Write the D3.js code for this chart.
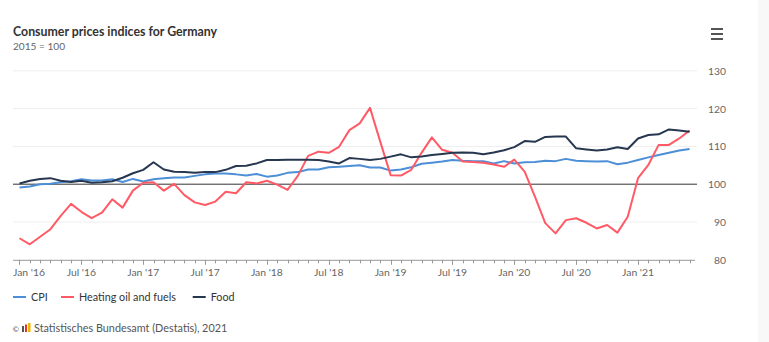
<!DOCTYPE html>
<html><head><meta charset="utf-8">
<script src="https://cdn.jsdelivr.net/npm/d3@7"></script>
<style>html,body{margin:0;padding:0;background:#fff;}svg{display:block;font-family:Lato,"Noto Sans",sans-serif;}</style>
</head><body><svg id="c" width="769" height="342"></svg>
<script>
const months = d3.range(66); // Jan 2016 .. Jun 2021
const cpi = [99.1,99.4,100.0,100.1,100.5,100.8,101.3,101.0,101.0,101.3,100.6,101.4,
100.7,101.3,101.6,101.8,101.8,102.2,102.6,102.8,102.8,102.6,102.3,102.7,
102.0,102.3,103.0,103.2,103.9,103.9,104.5,104.6,104.8,105.0,104.4,104.4,
103.6,103.9,104.5,105.4,105.7,106.0,106.4,106.2,106.1,106.1,105.5,106.1,
105.5,105.8,105.9,106.2,106.1,106.7,106.2,106.1,106.0,106.1,105.3,105.7,
106.4,107.1,107.7,108.3,108.9,109.3];
const heating = [85.7,84.1,86.1,88.1,91.6,94.8,92.7,91.0,92.5,96.0,93.8,98.3,
100.4,100.5,98.3,100.1,97.1,95.2,94.5,95.4,98.0,97.6,100.5,100.2,
100.9,99.9,98.5,102.2,107.5,108.6,108.3,109.9,114.3,116.1,120.2,111.2,
102.4,102.3,103.8,108.3,112.4,109.1,108.3,106.0,105.9,105.7,105.2,104.6,
106.5,103.3,96.7,89.7,87.0,90.5,91.0,89.8,88.3,89.2,87.2,91.4,
101.6,105.1,110.4,110.4,112.1,114.2];
const food = [100.2,100.9,101.4,101.6,100.9,100.6,100.9,100.4,100.5,100.8,101.7,102.9,
103.8,105.8,103.9,103.3,103.2,103.0,103.2,103.2,103.8,104.8,104.9,105.5,
106.4,106.4,106.5,106.5,106.5,106.4,106.0,105.5,106.9,106.7,106.4,106.7,
107.3,107.9,107.1,107.3,107.7,108.0,108.3,108.4,108.3,107.9,108.4,109.0,
109.8,111.4,111.2,112.5,112.6,112.6,109.5,109.2,108.9,109.2,109.8,109.3,
112.1,113.0,113.2,114.5,114.2,113.9];
const yTicks = [80,90,100,110,120,130];
const xTickIdx = [0,6,12,18,24,30,36,42,48,54,60];
const xTickLabels = ["Jan '16","Jul '16","Jan '17","Jul '17","Jan '18","Jul '18","Jan '19","Jul '19","Jan '20","Jul '20","Jan '21"];
const seriesNames = ["CPI","Heating oil and fuels","Food"];
const seriesColors = ["#4d8fd6","#ff5a66","#26374f"];
const seriesData = [cpi, heating, food];

const svg = d3.select("#c");
const L = 13, R = 697, T = 70.8, B = 259.8;
const x = d3.scaleLinear().domain([-0.63, 65.72]).range([L, R]);
const y = d3.scaleLinear().domain([80, 130]).range([B, T]);

function fit(sel, w) {
  const n = sel.node(); let fs = parseFloat(sel.attr("font-size"));
  for (let k = 0; k < 3; k++) { const cw = n.getComputedTextLength(); fs = fs * w / cw; sel.attr("font-size", fs); }
  return fs;
}

svg.append("rect").attr("x",758).attr("y",0).attr("width",11).attr("height",342).attr("fill","#f8f8f8");

// title
fit(svg.append("text").attr("x",13).attr("y",36).attr("font-size",12).attr("font-weight","bold").attr("fill","#333").text("Consumer prices indices for Germany"), 204);
fit(svg.append("text").attr("x",13).attr("y",50).attr("font-size",10).attr("fill","#666").text("2015 = 100"), 52);

// menu icon
[0,5,10].forEach(d => svg.append("rect").attr("x",711).attr("y",28+d).attr("width",12).attr("height",2).attr("fill","#555"));

// grid
svg.append("g").selectAll("line").data(yTicks.filter(v => v !== 80 && v !== 100)).join("line")
  .attr("x1",L).attr("x2",R).attr("y1",d=>y(d)).attr("y2",d=>y(d)).attr("stroke","#eeeeee").attr("stroke-width",1);

// y labels
const ylab = svg.append("g").selectAll("text").data(yTicks).join("text")
  .attr("x",726).attr("y",d=>y(d)+4).attr("text-anchor","end").attr("font-size",11).attr("fill","#666").text(d=>d);
const yfs = fit(d3.select(ylab.nodes()[5]), 18);
ylab.attr("font-size", yfs);

// x axis
svg.append("line").attr("x1",L).attr("x2",R-2).attr("y1",B+0.5).attr("y2",B+0.5).attr("stroke","#999");
svg.append("g").selectAll("line").data(months).join("line")
  .attr("x1",d=>Math.round(x(d))+0.5).attr("x2",d=>Math.round(x(d))+0.5).attr("y1",B).attr("y2",d=>B+(d%6===0?5:3.5)).attr("stroke","#999");
const xl = svg.append("g").selectAll("text").data(xTickIdx).join("text")
  .attr("y",276).attr("font-size",10.5).attr("fill","#666").attr("text-anchor","middle").text((d,i)=>xTickLabels[i]);
const xfs = fit(d3.select(xl.nodes()[0]), 32);
xl.attr("font-size", xfs).attr("x", function(d){ const w=this.getComputedTextLength(); return Math.max(x(d), L + w/2); });

// 100 line
svg.append("line").attr("x1",L).attr("x2",R).attr("y1",y(100)).attr("y2",y(100)).attr("stroke","#333").attr("stroke-width",1);

// lines
const line = d3.line().x((d,i)=>x(i)).y(d=>y(d));
svg.append("g").selectAll("path").data(seriesData).join("path")
  .attr("d", line).attr("fill","none").attr("stroke",(d,i)=>seriesColors[i]).attr("stroke-width",2).attr("stroke-linejoin","round");

// legend
const legX = [13, 61, 192.7];
const lg = svg.append("g").selectAll("g").data(seriesNames).join("g");
lg.append("line").attr("x1",(d,i)=>legX[i]).attr("x2",(d,i)=>legX[i]+13).attr("y1",297).attr("y2",297).attr("stroke",(d,i)=>seriesColors[i]).attr("stroke-width",2);
const lt = lg.append("text").attr("x",(d,i)=>legX[i]+18).attr("y",300.5).attr("font-size",11).attr("fill","#333").text(d=>d);
const lfs = fit(d3.select(lt.nodes()[1]), 97);
lt.attr("font-size", lfs);

// footer
svg.append("text").attr("x",12.5).attr("y",331.5).attr("font-size",8).attr("fill","#555").text("©");
const logo = svg.append("g");
logo.append("rect").attr("x",22).attr("y",326).attr("width",2).attr("height",6).attr("fill","#555");
logo.append("rect").attr("x",25).attr("y",324.5).attr("width",2).attr("height",7.5).attr("fill","#e3322b");
logo.append("rect").attr("x",28).attr("y",323).attr("width",2.5).attr("height",9).attr("fill","#f2b600");
fit(svg.append("text").attr("x",34).attr("y",332).attr("font-size",10).attr("fill","#555").text("Statistisches Bundesamt (Destatis), 2021"), 193);
</script></body></html>
